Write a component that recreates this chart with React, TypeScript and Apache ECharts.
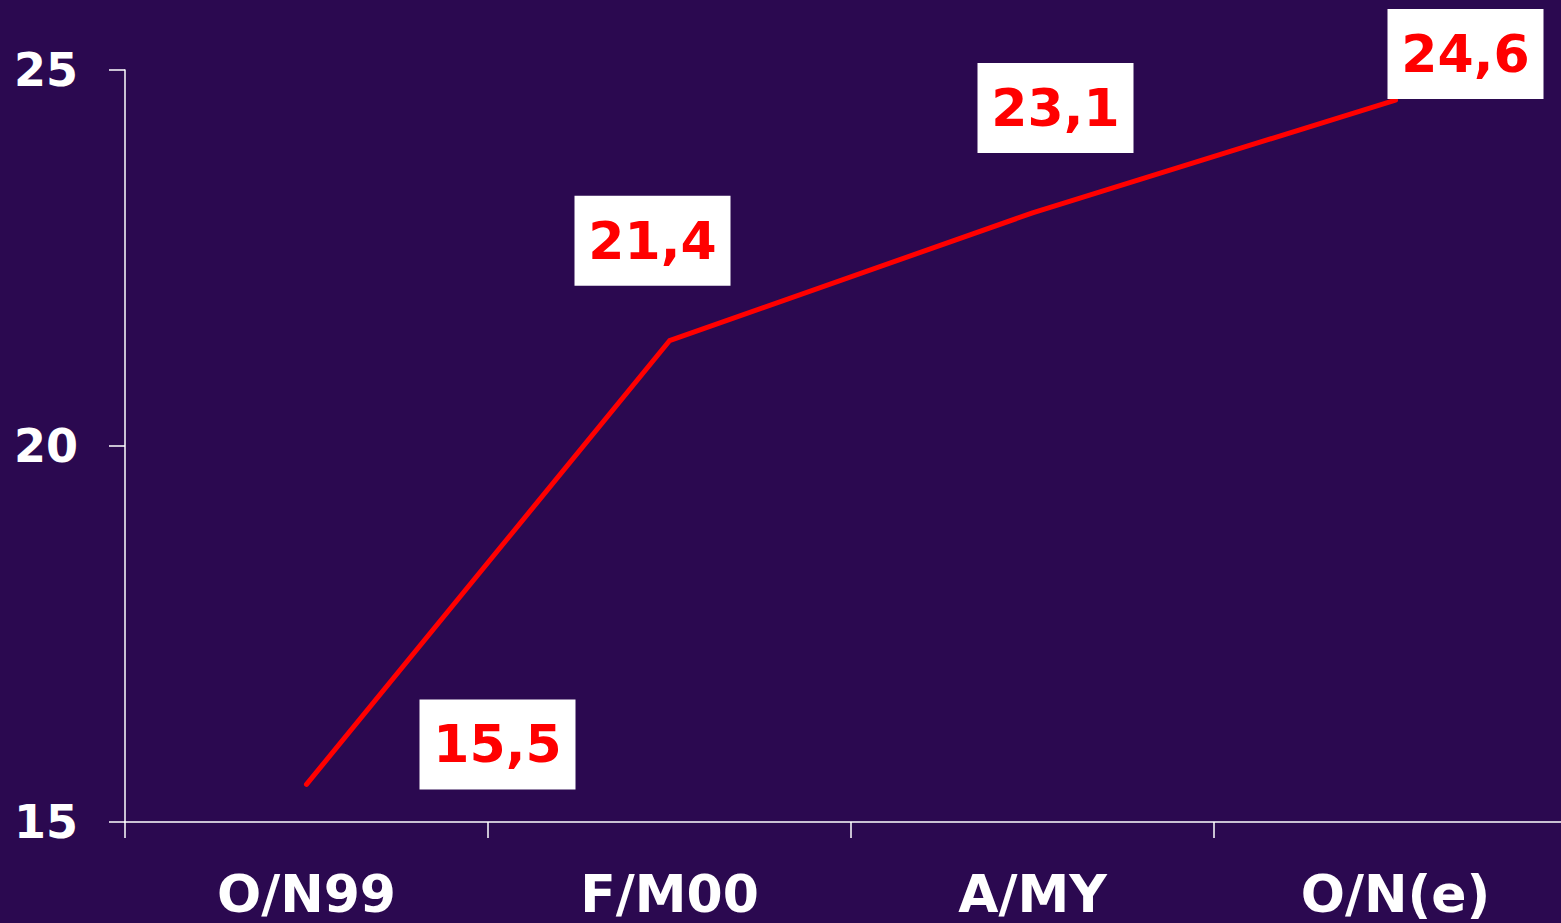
import React, { useEffect, useRef } from "react";
import * as echarts from "echarts";

const categories = ["O/N99", "F/M00", "A/MY", "O/N(e)"];
const values = [15.5, 21.4, 23.1, 24.6];
const labelTexts = ["15,5", "21,4", "23,1", "24,6"];
const yTicks = { min: 15, max: 25, interval: 5 };

export default function App() {
  const ref = useRef<HTMLDivElement>(null);
  useEffect(() => {
    if (!ref.current) return;
    const chart = echarts.init(ref.current, null, { renderer: "svg" });
    const offsets: [number, number][] = [
      [191, -40],
      [-17, -100],
      [23, -105],
      [70, -46],
    ];
    chart.setOption({
      animation: false,
      backgroundColor: "#2B0950",
      textStyle: { fontFamily: "DejaVu Sans" },
      grid: {
        left: 125,
        width: 1452,
        top: 70,
        bottom: 101,
        containLabel: false,
        outerBoundsMode: "none",
      },
      xAxis: {
        type: "category",
        data: categories,
        boundaryGap: true,
        axisLine: { lineStyle: { color: "#FFFFFF", width: 1.5 } },
        axisTick: { show: true, length: 16, lineStyle: { color: "#FFFFFF", width: 1.5 } },
        axisLabel: {
          color: "#FFFFFF",
          fontSize: 52,
          lineHeight: 52,
          fontWeight: "bold",
          fontFamily: "DejaVu Sans",
          margin: 46,
        },
        splitLine: { show: false },
      },
      yAxis: {
        type: "value",
        min: yTicks.min,
        max: yTicks.max,
        interval: yTicks.interval,
        axisLine: { show: true, lineStyle: { color: "#FFFFFF", width: 1.5 } },
        axisTick: { show: true, length: 16, lineStyle: { color: "#FFFFFF", width: 1.5 } },
        axisLabel: {
          color: "#FFFFFF",
          fontSize: 46,
          fontWeight: "bold",
          fontFamily: "DejaVu Sans",
          margin: 47,
        },
        splitLine: { show: false },
      },
      series: [
        {
          type: "line",
          data: values,
          showSymbol: true,
          symbol: "circle",
          symbolSize: 1,
          lineStyle: { color: "#FF0000", width: 5, cap: "round", join: "round" },
          itemStyle: { color: "#FF0000" },
          label: {
            show: true,
            position: "inside",
            formatter: (p: any) => labelTexts[p.dataIndex],
            color: "#FF0000",
            fontSize: 52,
            fontWeight: "bold",
            fontFamily: "DejaVu Sans",
            backgroundColor: "#FFFFFF",
            width: 130,
            align: "center",
            verticalAlign: "middle",
            lineHeight: 52,
            padding: [19, 13, 19, 13],
          },
          labelLayout: (p: any) => ({
            dx: offsets[p.dataIndex][0],
            dy: offsets[p.dataIndex][1],
            hideOverlap: false,
          }),
          z: 3,
        },
      ],
    });
    return () => chart.dispose();
  }, []);
  return (
    <div
      ref={ref}
      style={{ position: "fixed", left: 0, top: 0, width: 1561, height: 923 }}
    />
  );
}
